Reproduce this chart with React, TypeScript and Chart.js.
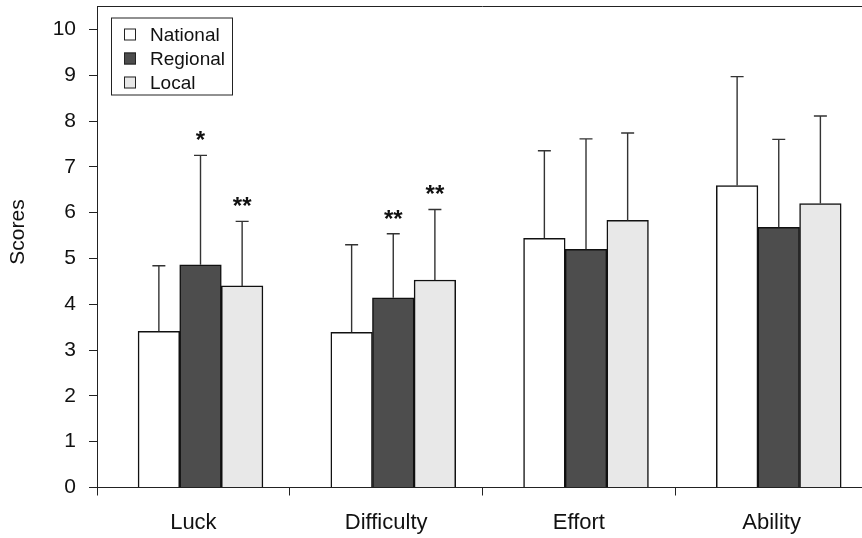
import React, { useEffect, useRef } from "react";
import { Chart, registerables } from "chart.js";
Chart.register(...registerables);

const categories = ["Luck", "Difficulty", "Effort", "Ability"];
const seriesNames = ["National", "Regional", "Local"];
const nationalMeans = [3.41, 3.39, 5.44, 6.59];
const regionalMeans = [4.86, 4.14, 5.2, 5.68];
const localMeans = [4.4, 4.53, 5.83, 6.2];
const nationalSD = [1.43, 1.91, 1.91, 2.38];
const regionalSD = [2.39, 1.4, 2.41, 1.92];
const localSD = [1.41, 1.54, 1.91, 1.91];
const nationalSig = ["", "", "", ""];
const regionalSig = ["*", "**", "", ""];
const localSig = ["**", "**", "", ""];
const yTicks = [0, 1, 2, 3, 4, 5, 6, 7, 8, 9, 10];
const yMax = 10.5;
const yTitle = "Scores";

const fillColors = ["#ffffff", "#4d4d4d", "#e8e8e8"];
const FONT = "'Liberation Sans', Arial, sans-serif";

export default function App() {
  const ref = useRef<HTMLCanvasElement | null>(null);
  useEffect(() => {
    if (!ref.current) return;
    const means = [nationalMeans, regionalMeans, localMeans];
    const sds = [nationalSD, regionalSD, localSD];
    const sigs = [nationalSig, regionalSig, localSig];
    const barFrac = 0.216;
    const groupShift = 0.037;

    const datasets = means.map((m, s) => ({
      label: seriesNames[s],
      data: m.map((v, i) => ({ x: i + groupShift + (s - 1) * barFrac, y: v })),
      xAxisID: "xb",
      yAxisID: "y",
      backgroundColor: fillColors[s],
      borderColor: "#111111",
      borderWidth: 1.5,
      borderSkipped: "bottom" as const,
      barThickness: 41.6,
      grouped: false,
    }));

    const extras = {
      id: "extras",
      afterDatasetsDraw(chart: any) {
        const ctx = chart.ctx;
        const ys = chart.scales.y;
        const area = chart.chartArea;
        ctx.save();
        // error bars and significance marks
        datasets.forEach((_, d) => {
          const meta = chart.getDatasetMeta(d);
          meta.data.forEach((bar: any, i: number) => {
            const x = bar.x;
            const y0 = bar.y;
            const y1 = ys.getPixelForValue(means[d][i] + sds[d][i]);
            ctx.strokeStyle = "#333333";
            ctx.lineWidth = 1.4;
            ctx.beginPath();
            ctx.moveTo(x, y0);
            ctx.lineTo(x, y1);
            ctx.moveTo(x - 6.5, y1);
            ctx.lineTo(x + 6.5, y1);
            ctx.stroke();
            const sig = sigs[d][i];
            if (sig) {
              ctx.fillStyle = "#111111";
              ctx.font = `bold 24px ${FONT}`;
              ctx.textAlign = "center";
              ctx.textBaseline = "alphabetic";
              ctx.fillText(sig, x, y1 - 7);
            }
          });
        });
        // top frame line
        ctx.strokeStyle = "#222222";
        ctx.lineWidth = 1;
        ctx.beginPath();
        ctx.moveTo(area.left, area.top);
        ctx.lineTo(area.right, area.top);
        ctx.stroke();
        // legend
        const lx = area.left + 14;
        const ly = area.top + 11;
        ctx.fillStyle = "#ffffff";
        ctx.fillRect(lx, ly, 121, 77);
        ctx.strokeStyle = "#222222";
        ctx.lineWidth = 1;
        ctx.strokeRect(lx + 0.5, ly + 0.5, 121, 77);
        seriesNames.forEach((name, s) => {
          const cy = ly + 17 + s * 24;
          ctx.fillStyle = fillColors[s];
          ctx.fillRect(lx + 13, cy - 6, 12, 12);
          ctx.strokeStyle = "#222222";
          ctx.strokeRect(lx + 13.5, cy - 5.5, 11, 11);
          ctx.fillStyle = "#111111";
          ctx.font = `19px ${FONT}`;
          ctx.textAlign = "left";
          ctx.textBaseline = "middle";
          ctx.fillText(name, lx + 39, cy + 1);
        });
        // y title
        ctx.save();
        ctx.translate(18, (area.top + area.bottom) / 2 - 15);
        ctx.rotate(-Math.PI / 2);
        ctx.fillStyle = "#111111";
        ctx.font = `21px ${FONT}`;
        ctx.textAlign = "center";
        ctx.textBaseline = "middle";
        ctx.fillText(yTitle, 0, 0);
        ctx.restore();
        ctx.restore();
      },
    };

    const chart = new Chart(ref.current, {
      type: "bar",
      data: { labels: categories, datasets: datasets as any },
      options: {
        animation: false,
        responsive: false,
        devicePixelRatio: 1,
        layout: { padding: { left: 0, top: 6.5, right: 12, bottom: 0 } },
        plugins: { legend: { display: false }, tooltip: { enabled: false } },
        scales: {
          x: {
            type: "category",
            position: "bottom",
            offset: true,
            grid: {
              offset: true,
              drawOnChartArea: false,
              drawTicks: true,
              tickLength: 8,
              color: "#222222",
            },
            border: { display: true, color: "#222222", width: 1 },
            ticks: {
              color: "#111111",
              font: { family: FONT, size: 22 },
              padding: 14,
              maxRotation: 0,
            },
            afterFit(scale: any) {
              scale.height = 50.5;
            },
          },
          xb: {
            type: "linear",
            display: false,
            offset: false,
            grid: { offset: false },
            min: -0.5,
            max: 3.5,
          },
          y: {
            type: "linear",
            min: 0,
            max: yMax,
            grid: {
              drawOnChartArea: false,
              drawTicks: true,
              tickLength: 8,
              color: "#222222",
            },
            border: { display: true, color: "#222222", width: 1 },
            ticks: {
              color: "#111111",
              font: { family: FONT, size: 21 },
              padding: 13,
            },
            afterBuildTicks(scale: any) {
              scale.ticks = yTicks.map((v) => ({ value: v }));
            },
            afterFit(scale: any) {
              scale.width = 97;
              scale.paddingTop = 0;
              scale.paddingBottom = 0;
            },
          },
        },
      },
      plugins: [extras],
    });
    return () => chart.destroy();
  }, []);

  return (
    <div
      style={{
        position: "fixed",
        left: 0,
        top: 0,
        width: 862,
        height: 538,
        overflow: "hidden",
        background: "#ffffff",
      }}
    >
      <canvas ref={ref} width={880} height={538} style={{ display: "block" }} />
    </div>
  );
}
